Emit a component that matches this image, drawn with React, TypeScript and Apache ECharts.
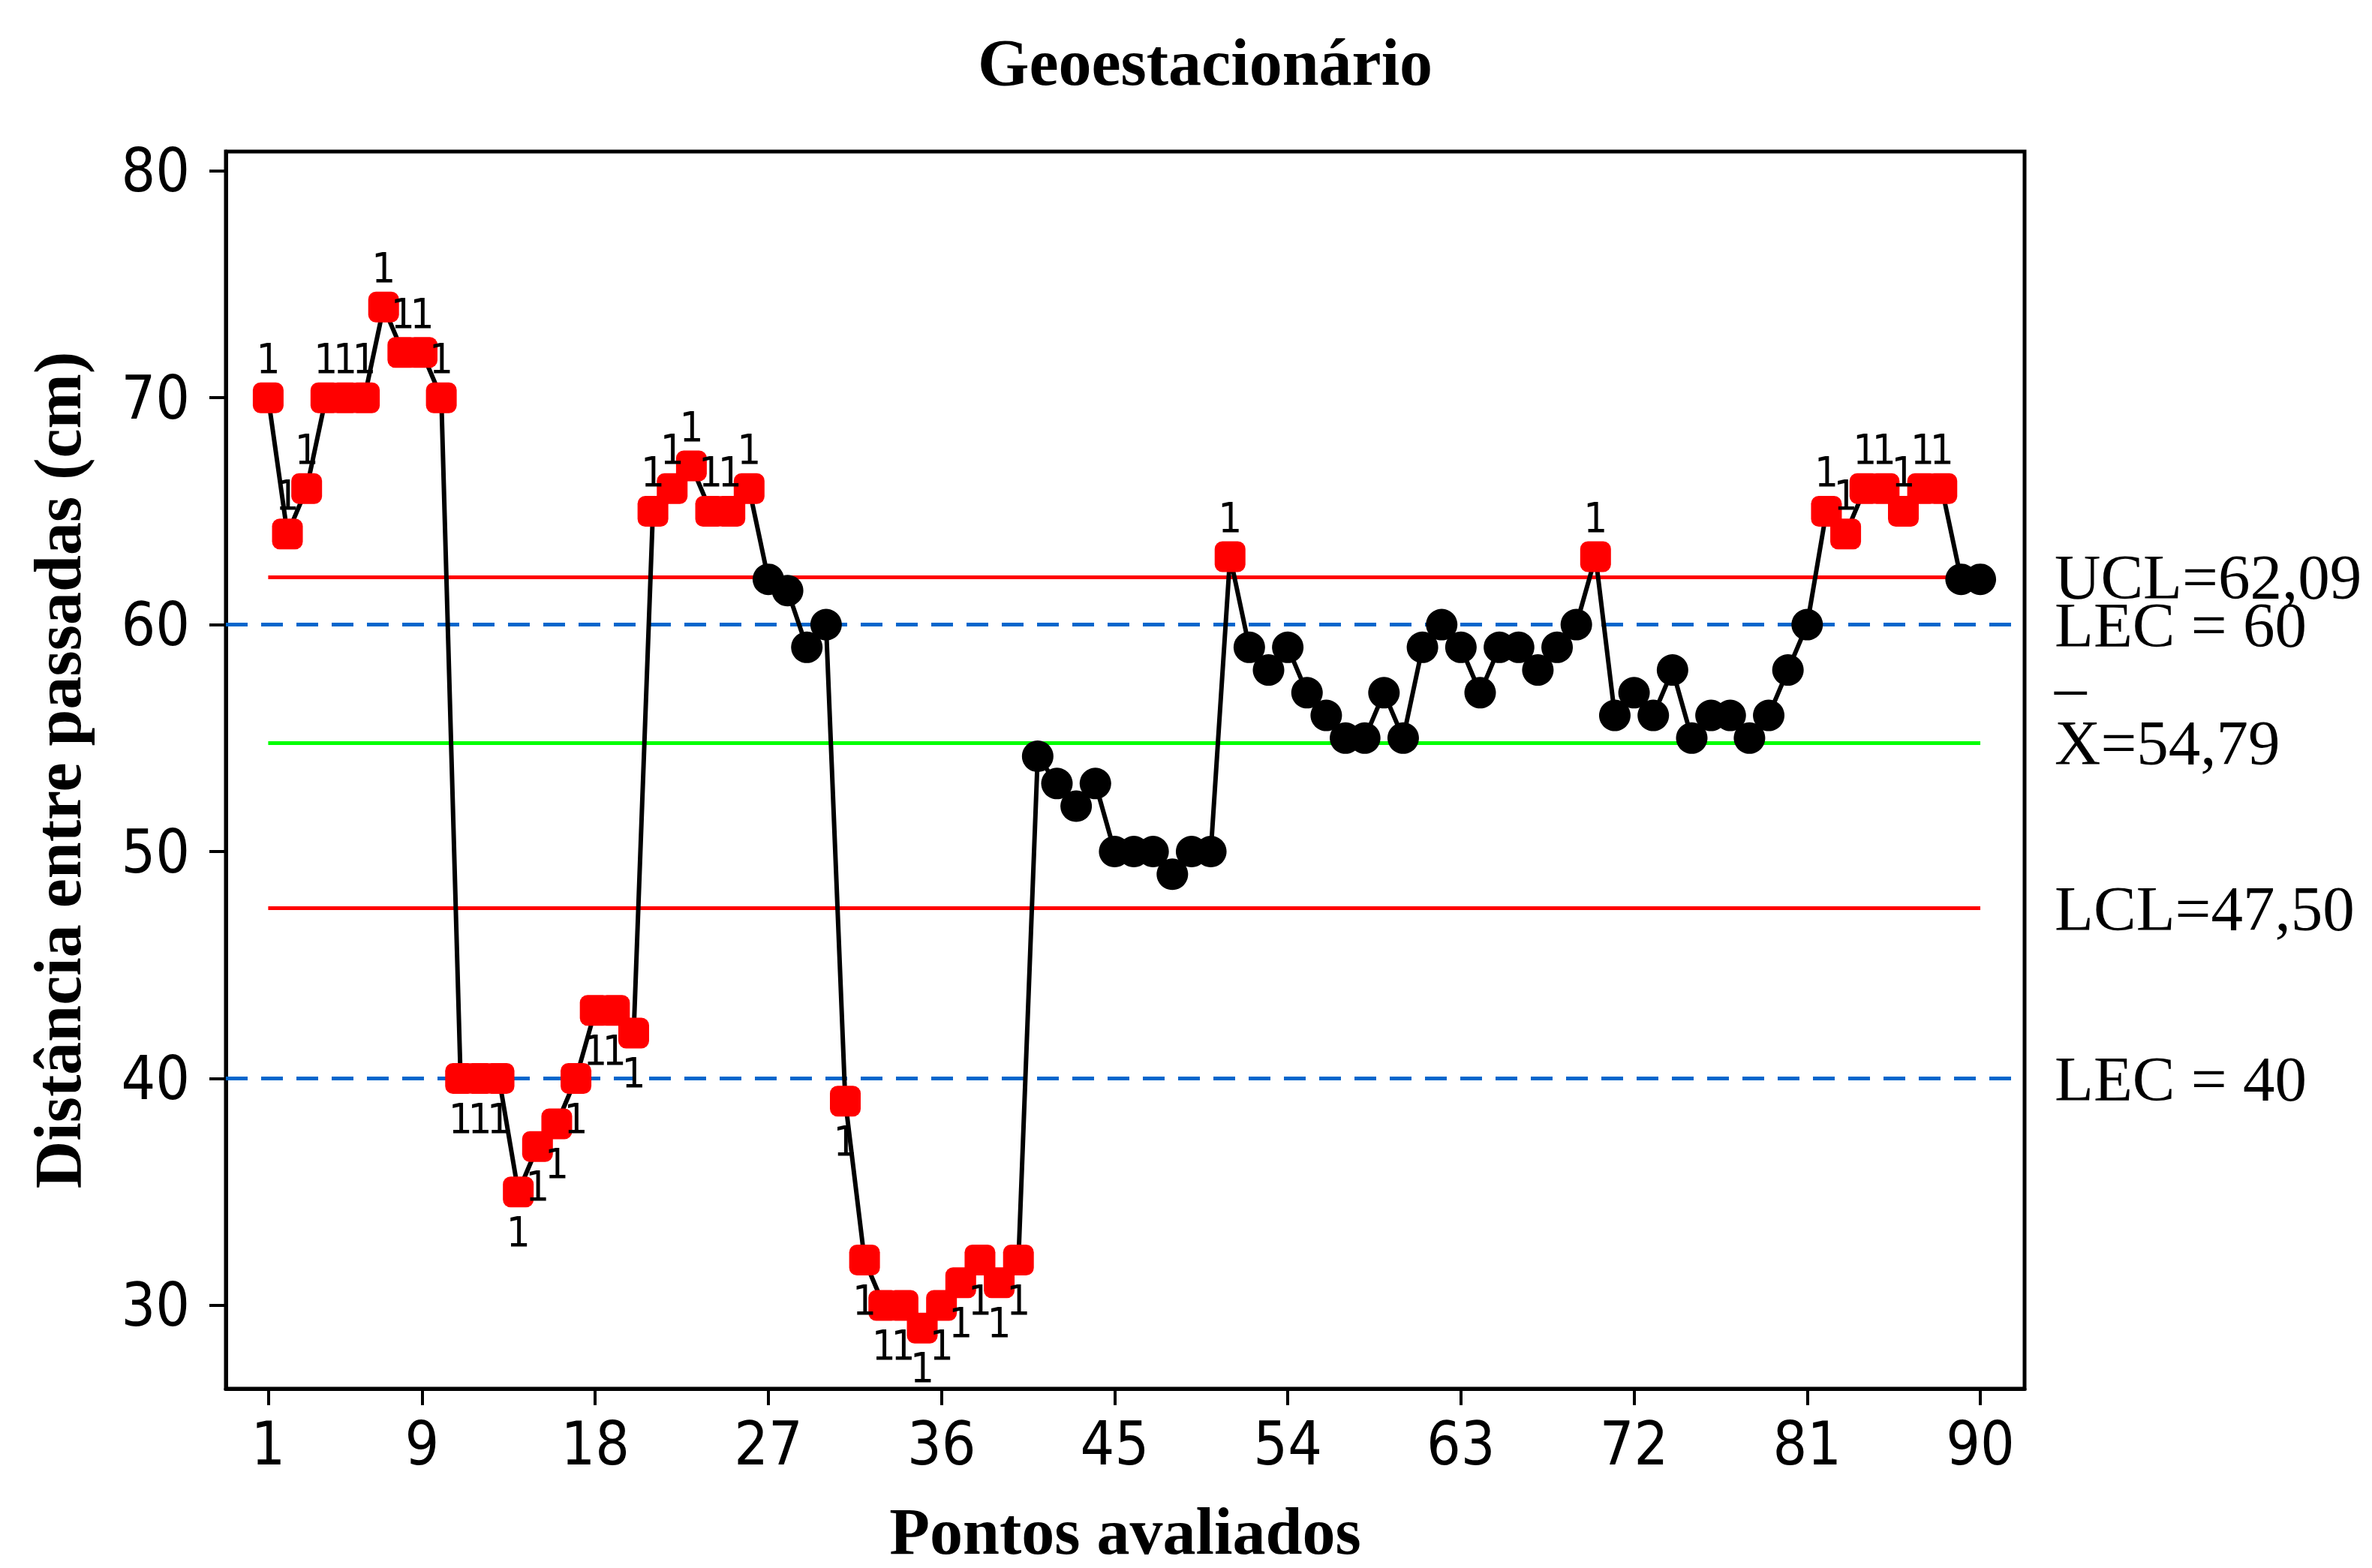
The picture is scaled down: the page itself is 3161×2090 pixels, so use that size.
import React, { useEffect, useRef } from 'react';
import * as echarts from 'echarts';

// Measured values (Distância entre passadas, cm) for points 1..90
const values: number[] = [
  70, 64, 66, 70, 70, 70, 74, 72, 72, 70,
  40, 40, 40, 35, 37, 38, 40, 43, 43, 42,
  65, 66, 67, 65, 65, 66, 62, 61.5, 59, 60,
  39, 32, 30, 30, 29, 30, 31, 32, 31, 32,
  54.2, 53, 52, 53, 50, 50, 50, 49, 50, 50,
  63, 59, 58, 59, 57, 56, 55, 55, 57, 55,
  59, 60, 59, 57, 59, 59, 58, 59, 60, 63,
  56, 57, 56, 58, 55, 56, 56, 55, 56, 58,
  60, 65, 64, 66, 66, 65, 66, 66, 62, 62,
];
const xTicks: number[] = [1, 9, 18, 27, 36, 45, 54, 63, 72, 81, 90];
const yTicks: number[] = [30, 40, 50, 60, 70, 80];

const UCL = 62.09;
const CL = 54.79;
const LCL = 47.5;
const LEC_HIGH = 60;
const LEC_LOW = 40;
const FIRST = 1;
const LAST = 90;

const SANS = "'Liberation Sans Narrow', 'DejaVu Sans Condensed', 'Liberation Sans', sans-serif";
const SERIF = "'Liberation Serif', 'DejaVu Serif', serif";

export default function App() {
  const ref = useRef<HTMLDivElement>(null);

  useEffect(() => {
    if (!ref.current) return;
    const chart = echarts.init(ref.current, undefined, { renderer: 'svg' });

    const pointData = values.map((v, i) => {
      const out = v > UCL || v < LCL;
      if (!out) return { value: [i + 1, v] };
      return {
        value: [i + 1, v],
        symbol: 'roundRect',
        symbolSize: 41,
        itemStyle: { color: '#FF0000' },
        label: {
          show: true,
          formatter: '1',
          position: v > UCL ? 'top' : 'bottom',
          distance: 4,
          fontSize: 56,
          fontFamily: SANS,
          color: '#000',
        },
      };
    });

    const labelBase = { fontSize: 85, fontFamily: SERIF, color: '#000', position: 'end' };

    const option: any = {
      animation: false,
      backgroundColor: '#ffffff',
      title: {
        text: 'Geoestacionário',
        left: 1298,
        top: 34,
        textStyle: { fontFamily: SERIF, fontWeight: 'bold', fontSize: 88, color: '#000' },
      },
      grid: {
        left: 301,
        right: 463,
        top: 202,
        bottom: 235,
        show: true,
        borderColor: '#000',
        borderWidth: 5,
        backgroundColor: 'transparent',
      },
      xAxis: {
        type: 'value',
        min: -1.2,
        max: 92.3,
        name: 'Pontos avaliados',
        nameLocation: 'middle',
        nameGap: 146,
        nameTextStyle: { fontFamily: SERIF, fontWeight: 'bold', fontSize: 88, color: '#000' },
        axisLine: { show: true, onZero: false, lineStyle: { color: '#000', width: 5 } },
        axisTick: { show: true, length: 22, lineStyle: { color: '#000', width: 4 }, customValues: xTicks },
        axisLabel: { customValues: xTicks, margin: 33, fontSize: 80, fontFamily: SANS, color: '#000' },
        splitLine: { show: false },
      },
      yAxis: {
        type: 'value',
        min: 26.33,
        max: 80.85,
        name: 'Distância entre passadas (cm)',
        nameLocation: 'middle',
        nameGap: 180,
        nameTextStyle: { fontFamily: SERIF, fontWeight: 'bold', fontSize: 88, color: '#000' },
        axisLine: { show: true, onZero: false, lineStyle: { color: '#000', width: 5 } },
        axisTick: { show: true, length: 22, lineStyle: { color: '#000', width: 4 }, customValues: yTicks },
        axisLabel: { customValues: yTicks, margin: 48, fontSize: 80, fontFamily: SANS, color: '#000' },
        splitLine: { show: false },
      },
      series: [
        {
          type: 'line',
          name: 'limits',
          data: [],
          z: 1,
          markLine: {
            silent: true,
            symbol: ['none', 'none'],
            data: [
              {
                yAxis: LEC_HIGH,
                lineStyle: { color: '#0066CC', width: 5, type: [29, 18] },
                label: { ...labelBase, formatter: 'LEC = 60', distance: 40 },
              },
              {
                yAxis: LEC_LOW,
                lineStyle: { color: '#0066CC', width: 5, type: [29, 18] },
                label: { ...labelBase, formatter: 'LEC = 40', distance: 40 },
              },
              [
                {
                  coord: [FIRST, UCL],
                  lineStyle: { color: '#FF0000', width: 5, type: 'solid' },
                  label: { ...labelBase, formatter: 'UCL=62,09', distance: 99 },
                },
                { coord: [LAST, UCL] },
              ],
              [
                {
                  coord: [FIRST, CL],
                  lineStyle: { color: '#00FF00', width: 5, type: 'solid' },
                  label: {
                    ...labelBase,
                    formatter: '{bar|_}\n{x|X=54,79}\n{bar| }',
                    distance: 99,
                    rich: {
                      bar: { fontSize: 85, fontFamily: SERIF, color: '#000', lineHeight: 123 },
                      x: { fontSize: 85, fontFamily: SERIF, color: '#000', lineHeight: 85 },
                    },
                  },
                },
                { coord: [LAST, CL] },
              ],
              [
                {
                  coord: [FIRST, LCL],
                  lineStyle: { color: '#FF0000', width: 5, type: 'solid' },
                  label: { ...labelBase, formatter: 'LCL=47,50', distance: 99 },
                },
                { coord: [LAST, LCL] },
              ],
            ],
          },
        },
        {
          type: 'line',
          name: 'values',
          z: 10,
          data: pointData,
          symbol: 'circle',
          symbolSize: 42,
          showAllSymbol: true,
          itemStyle: { color: '#000' },
          lineStyle: { color: '#000', width: 6 },
          label: { show: false },
        },
      ],
    };

    chart.setOption(option);
    return () => chart.dispose();
  }, []);

  return (
    <div
      ref={ref}
      style={{ position: 'fixed', left: 0, top: 0, width: 3161, height: 2090, background: '#fff' }}
    />
  );
}
